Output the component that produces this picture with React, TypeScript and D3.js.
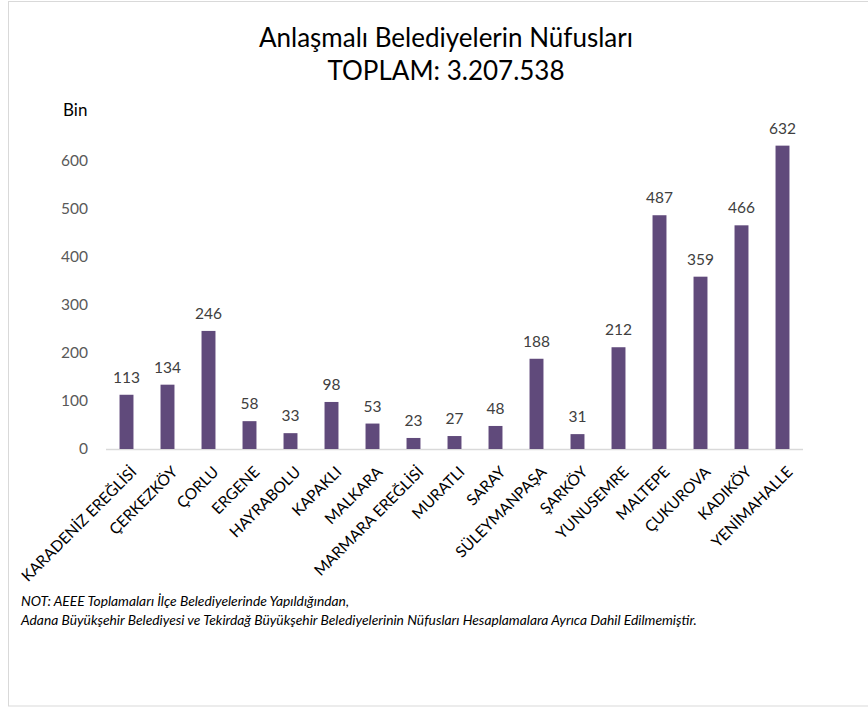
import React from "react";
import * as d3 from "d3";

const categories = [
  "KARADENİZ EREĞLİSİ", "ÇERKEZKÖY", "ÇORLU", "ERGENE", "HAYRABOLU", "KAPAKLI",
  "MALKARA", "MARMARA EREĞLİSİ", "MURATLI", "SARAY", "SÜLEYMANPAŞA", "ŞARKÖY",
  "YUNUSEMRE", "MALTEPE", "ÇUKUROVA", "KADIKÖY", "YENİMAHALLE",
];
const values = [113, 134, 246, 58, 33, 98, 53, 23, 27, 48, 188, 31, 212, 487, 359, 466, 632];
const yTicks = [0, 100, 200, 300, 400, 500, 600];
const titleLines = ["Anlaşmalı Belediyelerin Nüfusları", "TOPLAM: 3.207.538"];
const unitLabel = "Bin";
const noteLines = [
  "NOT: AEEE Toplamaları İlçe Belediyelerinde Yapıldığından,",
  "Adana Büyükşehir Belediyesi ve Tekirdağ Büyükşehir Belediyelerinin Nüfusları Hesaplamalara Ayrıca Dahil Edilmemiştir.",
];

const W = 868;
const H = 707;
const FONT = "Lato, 'Open Sans', sans-serif";
const BAR = "#604a7b";

export default function App() {
  const x = d3.scaleBand<string>().domain(categories).range([106, 803]).padding(0);
  const y = d3.scaleLinear().domain([0, 700]).range([449, 113]);
  const barW = x.bandwidth() * 0.34;

  return (
    <svg
      width={W}
      height={H}
      style={{ position: "absolute", left: 0, top: 0, display: "block", background: "#fff" }}
      fontFamily={FONT}
    >
      <rect x={8.5} y={1.5} width={880} height={704.5} fill="#fff" stroke="#d9d9d9" strokeWidth={1} />
      <text x={446} y={47} textAnchor="middle" fontSize={26} fill="#000">{titleLines[0]}</text>
      <text x={446} y={80} textAnchor="middle" fontSize={26} fill="#000">{titleLines[1]}</text>
      <text x={63} y={116} fontSize={17} fill="#000">{unitLabel}</text>

      {yTicks.map((t) => (
        <text key={t} x={88} y={y(t)} dy="0.35em" textAnchor="end" fontSize={15.5} fill="#595959">
          {t}
        </text>
      ))}

      <line x1={106} x2={803} y1={y(0) + 0.5} y2={y(0) + 0.5} stroke="#d9d9d9" strokeWidth={1.5} />

      {categories.map((c, i) => {
        const cx = (x(c) as number) + x.bandwidth() / 2;
        const v = values[i];
        return (
          <g key={c}>
            <rect x={cx - barW / 2} y={y(v)} width={barW} height={y(0) - y(v)} fill={BAR} />
            <text x={cx} y={y(v) - 12} textAnchor="middle" fontSize={15.5} fill="#404040">
              {v}
            </text>
            <text
              transform={`translate(${cx + 11},${y(0) + 24}) rotate(-45)`}
              textAnchor="end"
              fontSize={15.5}
              fill="#000"
            >
              {c}
            </text>
          </g>
        );
      })}

      {noteLines.map((l, i) => (
        <text key={i} x={21} y={606 + i * 19} fontSize={13.8} fontStyle="italic" fill="#000">
          {l}
        </text>
      ))}
    </svg>
  );
}
